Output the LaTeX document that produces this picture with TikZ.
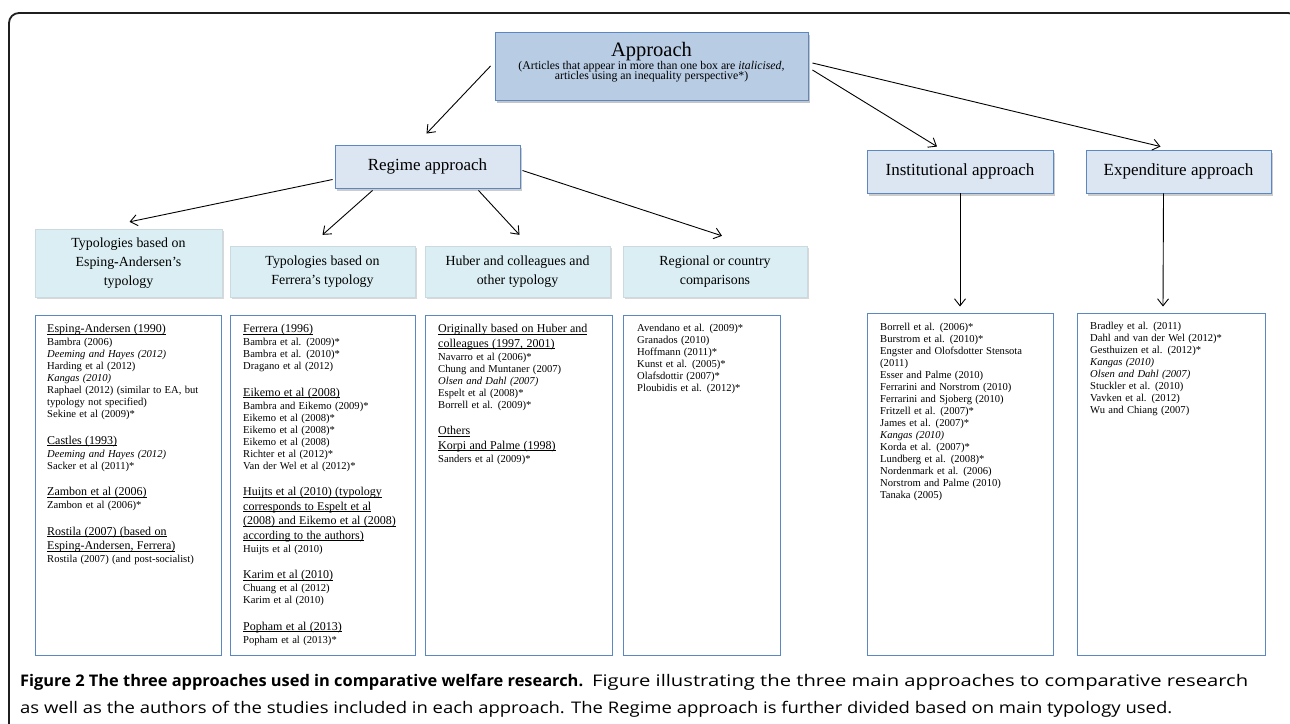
\documentclass[tikz,border=0pt]{standalone}
\usepackage{fontspec}
\setmainfont{Liberation Serif}
\newfontfamily\capfont{Open Sans}
\usepackage{graphicx}
\usetikzlibrary{arrows.meta,shadows}

\definecolor{bordblue}{HTML}{5B87C2}
\definecolor{appfill}{HTML}{B8CCE4}
\definecolor{regfill}{HTML}{DCE6F2}
\definecolor{subfill}{HTML}{DAEEF3}
\definecolor{capgray}{HTML}{5A5A5C}
\definecolor{capdark}{HTML}{231F20}

\newcommand\ulx[1]{\leavevmode\setbox0\hbox{#1}\rlap{\rule[-1.9pt]{\wd0}{0.6pt}}\box0}
\newcommand\Hd[1]{{\fontsize{12}{13.5}\selectfont\noindent\ulx{#1}\par}\vspace{1pt}}
\newcommand\It[1]{{\fontsize{10.6}{12}\selectfont\noindent #1\par}}
\newcommand\Iti[1]{{\fontsize{10.6}{12}\selectfont\noindent\textit{#1}\par}}
\newcommand\Gap{\vspace{13pt}}
\newsavebox\capB
\newsavebox\capR
\newsavebox\capL

\tikzset{
  appbox/.style={draw=bordblue, line width=0.9pt, fill=appfill, inner sep=0pt,
    drop shadow={shadow xshift=2pt, shadow yshift=-2.5pt, opacity=0.45}},
  regbox/.style={draw=bordblue, line width=0.9pt, fill=regfill, inner sep=0pt, align=center,
    font=\fontsize{17}{19}\selectfont,
    drop shadow={shadow xshift=2pt, shadow yshift=-2.5pt, opacity=0.4}},
  subbox/.style={draw=subfill!92!black, line width=0.3pt, fill=subfill, inner sep=0pt, align=center,
    font=\fontsize{13.9}{19}\selectfont,
    drop shadow={shadow xshift=1.5pt, shadow yshift=-2pt, opacity=0.3}},
  listbox/.style={draw=bordblue, line width=1pt, fill=white, inner sep=0pt},
  listtxt/.style={anchor=north west, inner sep=0pt, align=left},
  arr/.style={-{Straight Barb[length=7pt,width=11pt]}, line width=0.9pt, black},
  apptxt/.style={anchor=base, inner sep=0pt, font=\fontsize{11.8}{12}\selectfont},
  captxt/.style={anchor=base west, inner sep=0pt},
}

\begin{document}
\sbox\capB{\capfont\fontsize{16}{20}\selectfont\bfseries Figure 2 The three approaches used in comparative welfare research.}%
\sbox\capR{\capfont\fontsize{16}{20}\selectfont Figure illustrating the three main approaches to comparative research}%
\sbox\capL{\capfont\fontsize{16}{20}\selectfont as well as the authors of the studies included in each approach. The Regime approach is further divided based on main typology used.}%
\pgfmathsetmacro\capsb{563/\the\wd\capB}%
\pgfmathsetmacro\capsr{656/\the\wd\capR}%
\pgfmathsetmacro\capsl{1152/\the\wd\capL}%
\begin{tikzpicture}[x=1pt,y=-1pt]
\useasboundingbox (0,0) rectangle (1290,723);
\clip (0,0) rectangle (1290,723);
\fill[white] (0,0) rectangle (1290,723);

% outer frame
\draw[line width=1.8pt, black!88, rounded corners=10pt] (9,780) -- (9,13) -- (1298,13) -- (1298,780);

% top box
\node[appbox, minimum width=313pt, minimum height=68pt] (app) at (651.5,66) {};
\node[anchor=base, font=\fontsize{20.5}{22}\selectfont, inner sep=0pt] (apptitle) at (651.5,56) {Approach};
\node[apptxt] (appsub1) at (651.5,69) {(Articles that appear in more than one box are \textit{italicised,}};
\node[apptxt] (appsub2) at (651.5,79.5) {articles using an inequality perspective*)};

% second level
\node[regbox, minimum width=185pt, minimum height=43pt] (reg) at (427.5,166.5) {Regime approach};
\node[regbox, minimum width=186pt, minimum height=43pt] (inst) at (960,171.5) {Institutional approach};
\node[regbox, minimum width=185pt, minimum height=43pt] (exp) at (1178.5,171.5) {Expenditure approach};

% third level headings
\node[subbox, minimum width=187pt, minimum height=68pt] (sa) at (128.5,263) {Typologies based on\\Esping\textbf{-}Andersen's\\typology};
\node[subbox, minimum width=185pt, minimum height=51pt] (sb) at (322.5,271.5) {Typologies based on\\Ferrera's typology};
\node[subbox, minimum width=185pt, minimum height=51pt] (sc) at (517.5,271.5) {Huber and colleagues and\\other typology};
\node[subbox, minimum width=184pt, minimum height=51pt] (sd) at (715,271.5) {Regional or country\\comparisons};

% list boxes
\node[listbox, minimum width=186pt, minimum height=340pt] (la) at (128,485) {};
\node[listbox, minimum width=185pt, minimum height=340pt] (lb) at (322.5,485) {};
\node[listbox, minimum width=187pt, minimum height=340pt] (lc) at (518.5,485) {};
\node[listbox, minimum width=157pt, minimum height=340pt] (ld) at (701.5,485) {};
\node[listbox, minimum width=186pt, minimum height=342pt] (li) at (960,484) {};
\node[listbox, minimum width=188pt, minimum height=342pt] (le) at (1171,484) {};

% list texts
\node[listtxt, text width=174pt] (lat) at (47,324) {%
\Hd{Esping-Andersen (1990)}
\It{Bambra (2006)}
\Iti{Deeming and Hayes (2012)}
\It{Harding et al (2012)}
\Iti{Kangas (2010)}
\It{Raphael (2012) (similar to EA, but}
\It{typology not specified)}
\It{Sekine et al (2009)*}
\Gap
\Hd{Castles (1993)}
\Iti{Deeming and Hayes (2012)}
\It{Sacker et al (2011)*}
\Gap
\Hd{Zambon et al (2006)}
\It{Zambon et al (2006)*}
\Gap
\Hd{Rostila (2007) (based on}
\Hd{Esping-Andersen, Ferrera)}
\It{Rostila (2007) (and post-socialist)}
};

\node[listtxt, text width=172pt] (lbt) at (243,324) {%
\Hd{Ferrera (1996)}
\It{Bambra et al. (2009)*}
\It{Bambra et al. (2010)*}
\It{Dragano et al (2012)}
\Gap
\Hd{Eikemo et al (2008)}
\It{Bambra and Eikemo (2009)*}
\It{Eikemo et al (2008)*}
\It{Eikemo et al (2008)*}
\It{Eikemo et al (2008)}
\It{Richter et al (2012)*}
\It{Van der Wel et al (2012)*}
\Gap
\Hd{Huijts et al (2010) (typology}
\Hd{corresponds to Espelt et al}
\Hd{(2008) and Eikemo et al (2008)}
\Hd{according to the authors)}
\It{Huijts et al (2010)}
\Gap
\Hd{Karim et al (2010)}
\It{Chuang et al (2012)}
\It{Karim et al (2010)}
\Gap
\Hd{Popham et al (2013)}
\It{Popham et al (2013)*}
};

\node[listtxt, text width=174pt] (lct) at (438,324) {%
\Hd{Originally based on Huber and}
\Hd{colleagues (1997, 2001)}
\It{Navarro et al (2006)*}
\It{Chung and Muntaner (2007)}
\Iti{Olsen and Dahl (2007)}
\It{Espelt et al (2008)*}
\It{Borrell et al. (2009)*}
\Gap
\Hd{Others}
\Hd{Korpi and Palme (1998)}
\It{Sanders et al (2009)*}
};

\node[listtxt, text width=142pt] (ldt) at (637,324) {%
\It{Avendano et al. (2009)*}
\It{Granados (2010)}
\It{Hoffmann (2011)*}
\It{Kunst et al. (2005)*}
\It{Olafsdottir (2007)*}
\It{Ploubidis et al. (2012)*}
};

\node[listtxt, text width=172pt] (lit) at (880,322.5) {%
\It{Borrell et al. (2006)*}
\It{Burstrom et al. (2010)*}
\It{Engster and Olofsdotter Stensota}
\It{(2011)}
\It{Esser and Palme (2010)}
\It{Ferrarini and Norstrom (2010)}
\It{Ferrarini and Sjoberg (2010)}
\It{Fritzell et al. (2007)*}
\It{James et al. (2007)*}
\Iti{Kangas (2010)}
\It{Korda et al. (2007)*}
\It{Lundberg et al. (2008)*}
\It{Nordenmark et al. (2006)}
\It{Norstrom and Palme (2010)}
\It{Tanaka (2005)}
};

\node[listtxt, text width=172pt] (let) at (1090,321.5) {%
\It{Bradley et al. (2011)}
\It{Dahl and van der Wel (2012)*}
\It{Gesthuizen et al. (2012)*}
\Iti{Kangas (2010)}
\Iti{Olsen and Dahl (2007)}
\It{Stuckler et al. (2010)}
\It{Vavken et al. (2012)}
\It{Wu and Chiang (2007)}
};

% arrow end points
\coordinate (s1) at ([xshift=-4pt]app.west);
\coordinate (t1) at ([xshift=-1pt,yshift=11pt]reg.north);
\coordinate (s2) at ([xshift=4pt,yshift=-4pt]app.east);
\coordinate (t2) at ([xshift=-23pt,yshift=3pt]inst.north);
\coordinate (s3) at ([xshift=4pt,yshift=3pt]app.east);
\coordinate (t3) at ([xshift=-18pt,yshift=3pt]exp.north);
\coordinate (s4) at ([xshift=-2pt,yshift=-13pt]reg.west);
\coordinate (t4) at ([xshift=1pt,yshift=7pt]sa.north);
\coordinate (s5) at ([xshift=-55pt,yshift=-2pt]reg.south);
\coordinate (t5) at ([yshift=11pt]sb.north);
\coordinate (s6) at ([xshift=51pt,yshift=-2pt]reg.south);
\coordinate (t6) at ([xshift=2pt,yshift=11pt]sc.north);
\coordinate (s7) at ([xshift=2pt,yshift=-4pt]reg.east);
\coordinate (t7) at ([xshift=7pt,yshift=10pt]sd.north);
\coordinate (t8) at ([yshift=6pt]li.north);
\coordinate (s9) at ([xshift=-15pt]exp.south);
\coordinate (t9) at ([xshift=-8pt,yshift=6pt]le.north);

\draw[arr] (s1) -- (t1);
\draw[arr] (s2) -- (t2);
\draw[arr] (s3) -- (t3);
\draw[arr] (s4) -- (t4);
\draw[arr] (s5) -- (t5);
\draw[arr] (s6) -- (t6);
\draw[arr] (s7) -- (t7);
\draw[arr] (inst.south) -- (t8);
\draw[arr] (s9) -- (t9);

% caption
\node[captxt] (cap1) at (20,686) {\textcolor{capdark}{\scalebox{\capsb}[1]{\usebox\capB}}};
\node[captxt] (cap1r) at (592,686) {\textcolor{capgray}{\scalebox{\capsr}[1]{\usebox\capR}}};
\node[captxt] (cap2) at (20,713) {\textcolor{capgray}{\scalebox{\capsl}[1]{\usebox\capL}}};
\end{tikzpicture}
\end{document}
